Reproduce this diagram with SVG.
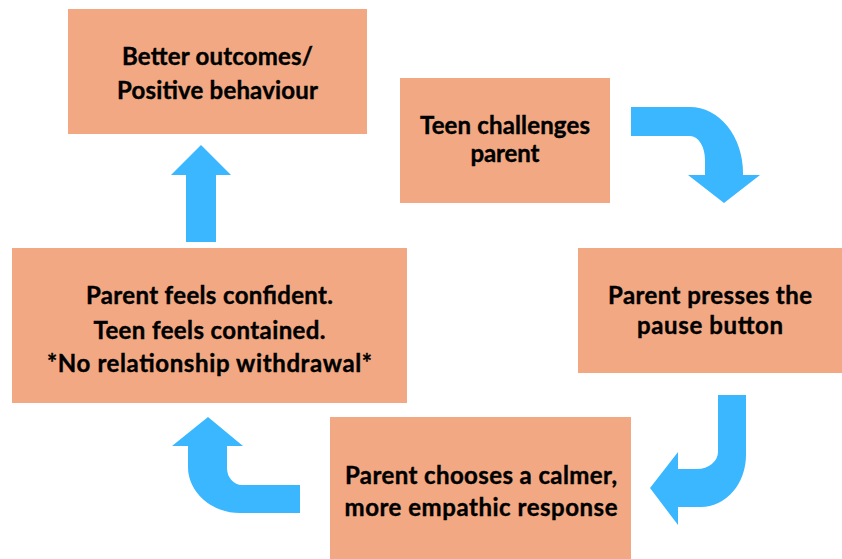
<svg xmlns="http://www.w3.org/2000/svg" width="842" height="559" viewBox="0 0 842 559">
<style>
.box{fill:#F2A983;}
.t{font-family:Lato,"Liberation Sans",sans-serif;font-weight:700;font-size:24px;fill:#000;stroke:#000;stroke-width:0.4px;text-anchor:middle;}
.arr{fill:#3AB7FF;}
</style>
<rect width="842" height="559" fill="#fff"/>
<g id="connectors">
<path class="arr" d="M631,107 L690,107 A53,66 0 0 1 743,173 L743,175 L760,175 L724,203 L688,175 L705,175 L705,160 A15,24 0 0 0 690,136 L631,136 Z"/>
<path class="arr" d="M718,395 L746,395 L746,455 A45,52 0 0 1 701,507 L678,507 L678,525 L650,488 L678,452 L678,469 L697,469 A21,17 0 0 0 718,452 Z"/>
<path class="arr" d="M300,485 L300,513 L240,513 A52,46 0 0 1 188,467 L188,446 L172,446 L208,417 L243,446 L227,446 L227,468 A15,17 0 0 0 242,485 Z"/>
<path class="arr" d="M186,242 L186,175 L171,175 L201,145 L231,175 L216,175 L216,242 Z"/>
</g>
<g id="node-better">
<rect class="box" x="68" y="9" width="299" height="125"/>
<text class="t" x="217.5" y="65" textLength="191">Better outcomes/</text>
<text class="t" x="217.5" y="99" textLength="201">Positive behaviour</text>
</g>
<g id="node-teen">
<rect class="box" x="400" y="78" width="210" height="125"/>
<text class="t" x="505" y="134" textLength="170">Teen challenges</text>
<text class="t" x="505" y="162" textLength="69">parent</text>
</g>
<g id="node-pause">
<rect class="box" x="578" y="248" width="264" height="125"/>
<text class="t" x="710" y="304" textLength="204">Parent presses the</text>
<text class="t" x="710" y="334" textLength="146">pause button</text>
</g>
<g id="node-calmer">
<rect class="box" x="330" y="417" width="301" height="142"/>
<text class="t" x="481" y="484" textLength="272">Parent chooses a calmer,</text>
<text class="t" x="481" y="516" textLength="273">more empathic response</text>
</g>
<g id="node-confident">
<rect class="box" x="12" y="248" width="395" height="155"/>
<text class="t" x="209.5" y="304" textLength="247">Parent feels confident.</text>
<text class="t" x="209.5" y="339" textLength="232">Teen feels contained.</text>
<text class="t" x="209.5" y="372" textLength="325">*No relationship withdrawal*</text>
</g>
</svg>
